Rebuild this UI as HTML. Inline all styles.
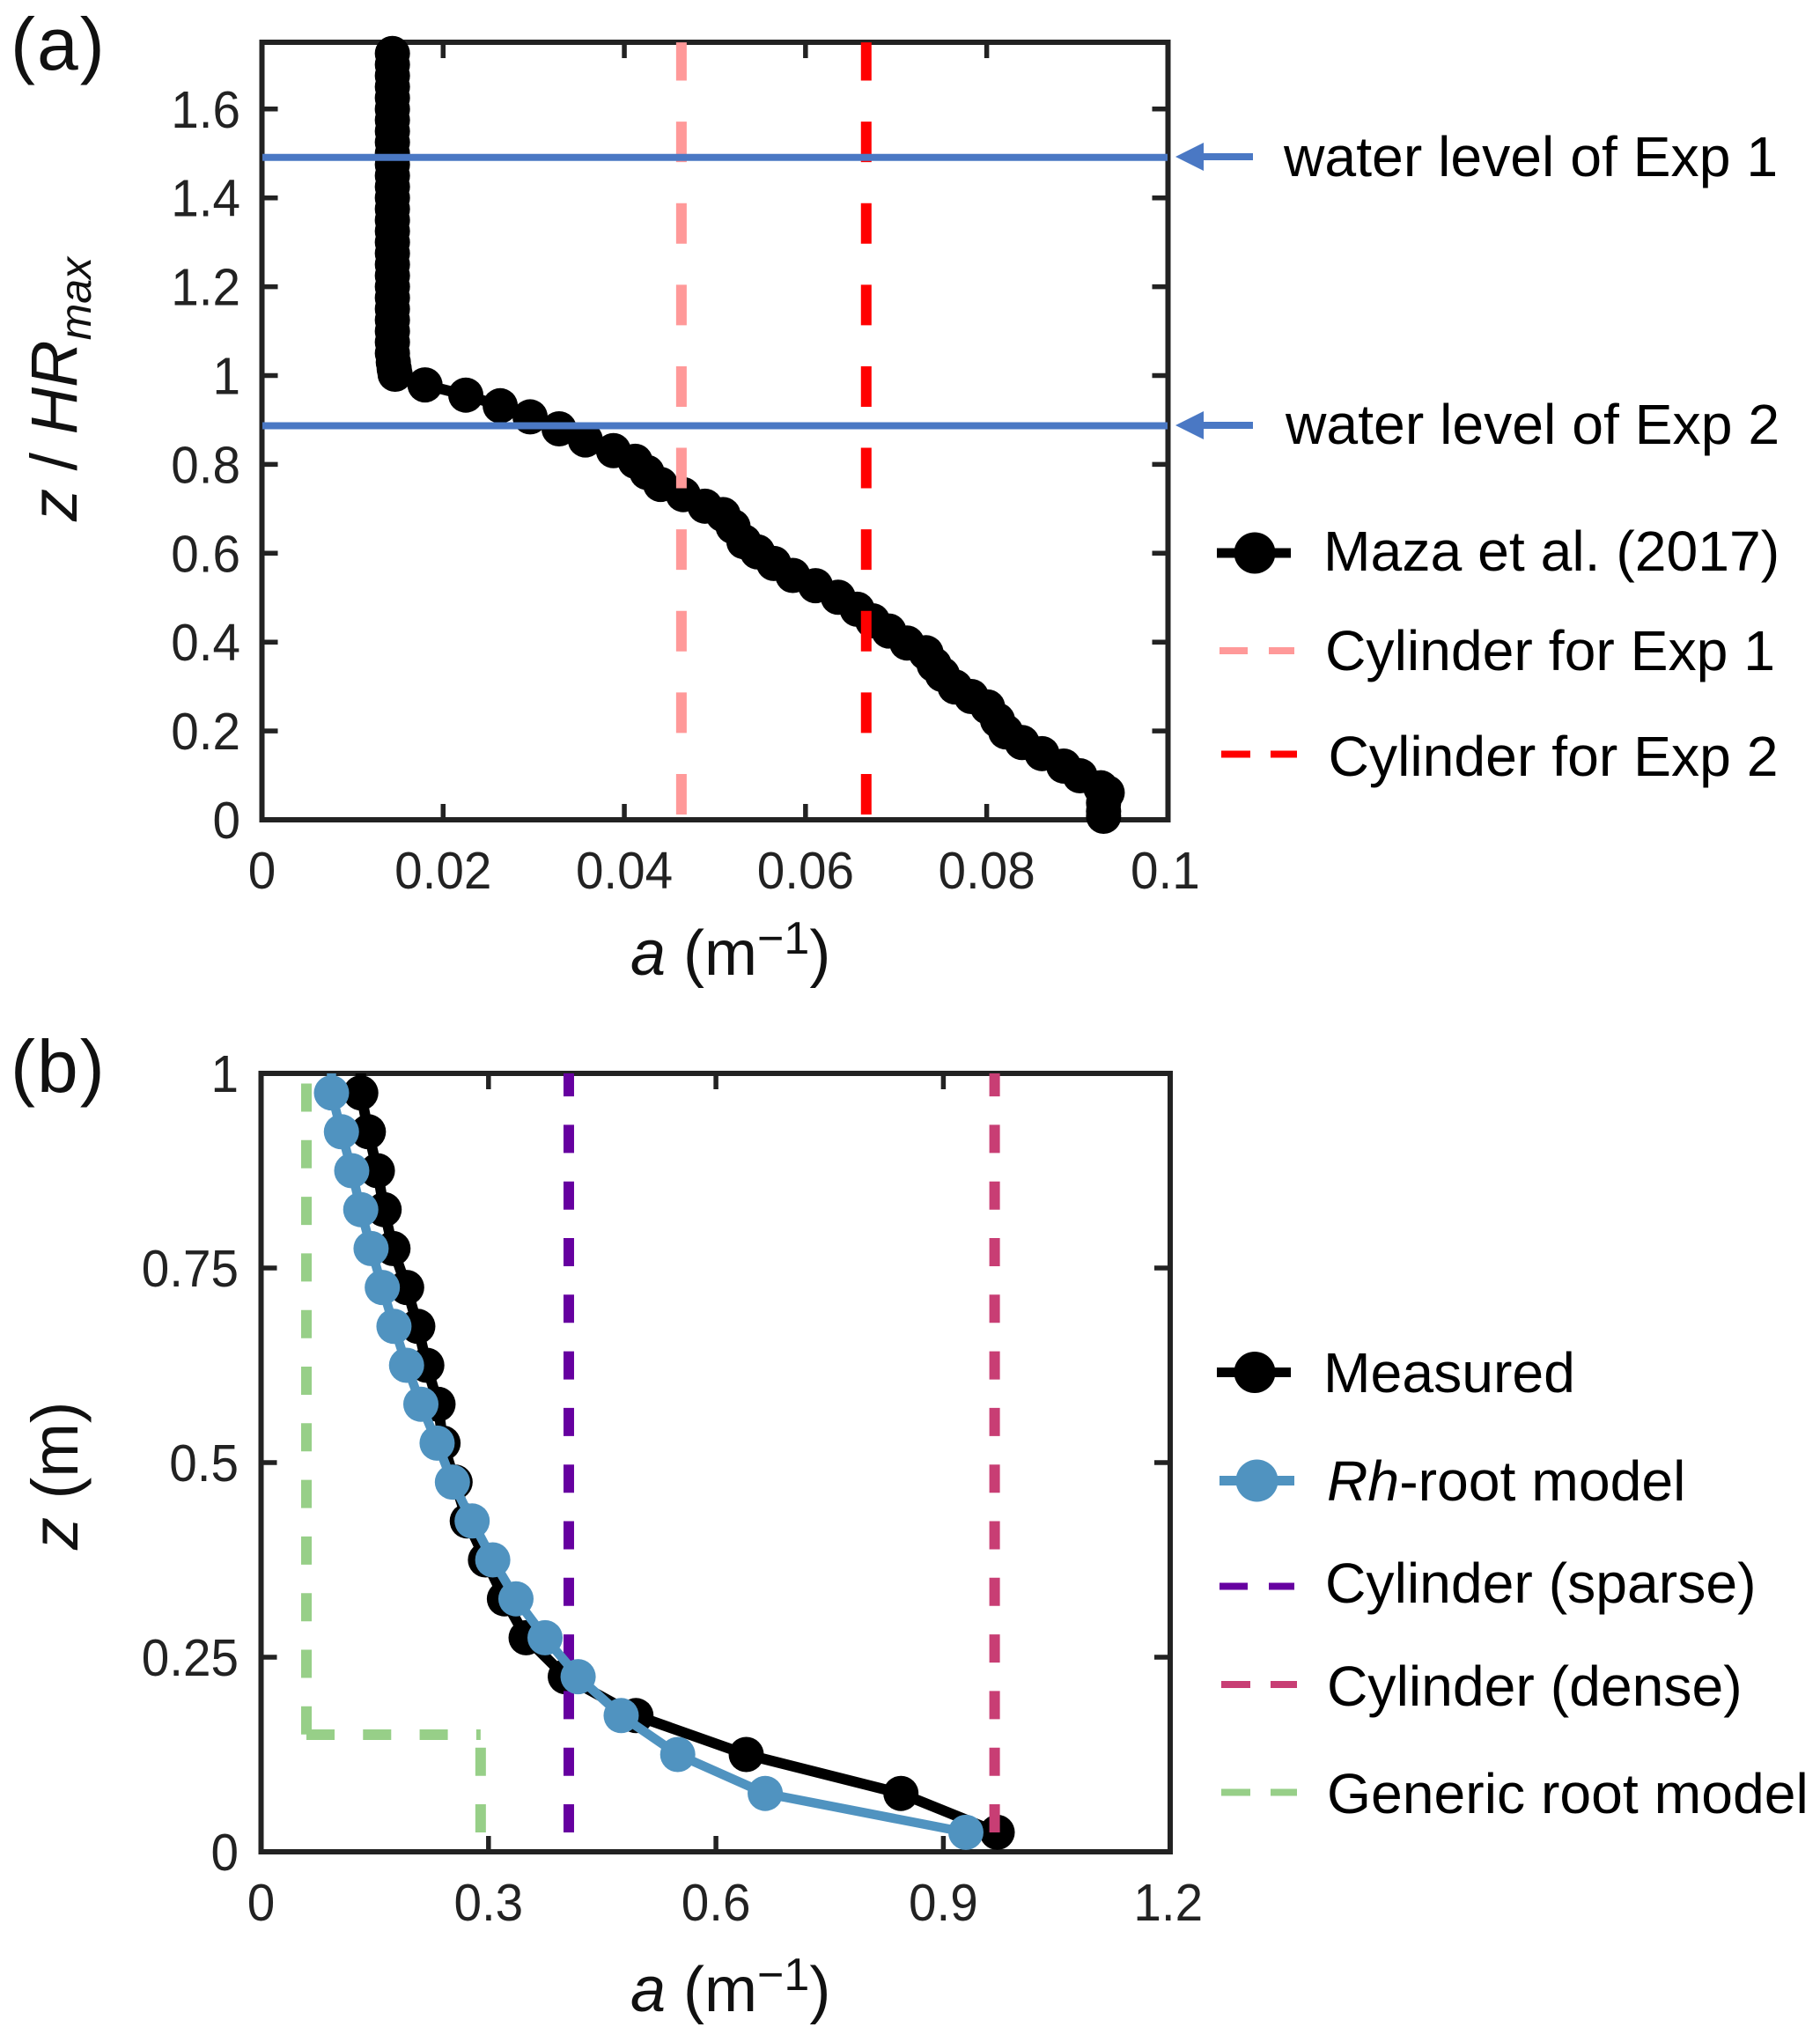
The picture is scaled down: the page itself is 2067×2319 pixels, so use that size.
<!DOCTYPE html>
<html lang="en">
<head>
<meta charset="utf-8">
<title>Frontal area profiles</title>
<style>
html,body{margin:0;padding:0;background:#fff;}
svg{display:block;font-family:"Liberation Sans",Arial,sans-serif;}
.leg{font-size:64.3px;fill:#000;}
.ttl{font-size:72px;fill:#111;}
.pl{font-size:84px;fill:#111;letter-spacing:2px;}
.tick-text{font-size:59px;fill:#222;}
</style>
</head>
<body>
<svg id="fig" xmlns="http://www.w3.org/2000/svg" width="2067" height="2319" viewBox="0 0 2067 2319">
  <rect x="0" y="0" width="2067" height="2319" fill="#fff"/>
  <g id="panelA"></g>
  <g id="panelB"></g>

  <text class="pl" x="12" y="79">(a)</text>
  <text class="pl" x="12" y="1240">(b)</text>

  <text class="ttl" font-size="74" style="font-size:74px" transform="translate(87,592) rotate(-90)"><tspan font-style="italic">z</tspan> / <tspan font-style="italic">HR</tspan><tspan font-style="italic" style="font-size:50px" dy="16">max</tspan></text>
  <text class="ttl" x="716" y="1107"><tspan font-style="italic">a</tspan> (m<tspan style="font-size:52px" dy="-24">−1</tspan><tspan dy="24">)</tspan></text>
  <text class="ttl" style="font-size:74px" transform="translate(88,1760) rotate(-90)"><tspan font-style="italic">z</tspan> (m)</text>
  <text class="ttl" x="716" y="2284"><tspan font-style="italic">a</tspan> (m<tspan style="font-size:52px" dy="-24">−1</tspan><tspan dy="24">)</tspan></text>

  <g>
    <rect x="1360" y="174" width="63" height="8" fill="#4a78c4"/>
    <polygon points="1335,178 1367,162 1367,194" fill="#4a78c4"/>
    <text class="leg" x="1458" y="200">water level of Exp 1</text>
  </g>
  <g>
    <rect x="1360" y="479" width="63" height="8" fill="#4a78c4"/>
    <polygon points="1335,483 1367,467 1367,499" fill="#4a78c4"/>
    <text class="leg" x="1460" y="504">water level of Exp 2</text>
  </g>

  <g>
    <g>
      <rect x="1382" y="622.5" width="84" height="11" fill="#000"/>
      <circle cx="1425" cy="628" r="23.5" fill="#000"/>
      <text class="leg" x="1503" y="648">Maza et al. (2017)</text>
    </g>
    <g>
      <rect x="1385" y="735" width="32" height="8" fill="#ff9999"/>
      <rect x="1441" y="735" width="29" height="8" fill="#ff9999"/>
      <text class="leg" x="1505" y="761">Cylinder for Exp 1</text>
    </g>
    <g>
      <rect x="1387" y="852.5" width="33" height="8" fill="#ff0000"/>
      <rect x="1443" y="852.5" width="30" height="8" fill="#ff0000"/>
      <text class="leg" x="1508.5" y="881">Cylinder for Exp 2</text>
    </g>
  </g>

  <g>
    <g>
      <rect x="1382" y="1553" width="84" height="11" fill="#000"/>
      <circle cx="1425" cy="1558.5" r="23.5" fill="#000"/>
      <text class="leg" x="1503" y="1581">Measured</text>
    </g>
    <g>
      <rect x="1385" y="1676" width="85" height="11" fill="#5093c0"/>
      <circle cx="1427.5" cy="1681.5" r="24" fill="#5093c0"/>
      <text class="leg" x="1507" y="1704"><tspan font-style="italic">Rh</tspan>-root model</text>
    </g>
    <g>
      <rect x="1385" y="1797.5" width="32" height="8" fill="#6600a0"/>
      <rect x="1441" y="1797.5" width="29" height="8" fill="#6600a0"/>
      <text class="leg" x="1505" y="1820">Cylinder (sparse)</text>
    </g>
    <g>
      <rect x="1387" y="1909" width="33" height="8" fill="#c83e74"/>
      <rect x="1443" y="1909" width="30" height="8" fill="#c83e74"/>
      <text class="leg" x="1507" y="1937">Cylinder (dense)</text>
    </g>
    <g>
      <rect x="1387" y="2031.5" width="33" height="8" fill="#97cf88"/>
      <rect x="1443" y="2031.5" width="30" height="8" fill="#97cf88"/>
      <text class="leg" x="1507" y="2059">Generic root model</text>
    </g>
  </g>
</svg>

<script>
// ---- Panel (a) data ----
const mazaA = [0.0144,0.0144,0.0144,0.0144,0.0144,0.0144,0.0144,0.0144,0.0144,0.0144,0.0144,0.0144,0.0144,0.0144,0.0144,0.0144,0.0144,0.0144,0.0144,0.0144,0.0144,0.0144,0.0144,0.0144,0.0144,0.0144,0.0144,0.0144,0.0145,0.0146,0.0147,0.0180,0.0225,0.0263,0.0296,0.0328,0.0357,0.0388,0.0412,0.0425,0.0440,0.0465,0.0489,0.0509,0.0520,0.0532,0.0547,0.0565,0.0586,0.0611,0.0636,0.0657,0.0674,0.0692,0.0712,0.0733,0.0742,0.0751,0.0765,0.0783,0.0801,0.0812,0.0821,0.0839,0.0861,0.0885,0.0903,0.0926,0.0933,0.0929,0.0929,0.0929];
const mazaZ = [1.725,1.70,1.675,1.65,1.625,1.60,1.575,1.55,1.525,1.50,1.475,1.45,1.425,1.40,1.375,1.35,1.325,1.30,1.275,1.25,1.225,1.20,1.175,1.15,1.125,1.10,1.075,1.05,1.03,1.015,1.003,0.979,0.956,0.932,0.907,0.880,0.855,0.831,0.807,0.782,0.755,0.732,0.706,0.687,0.660,0.626,0.603,0.577,0.550,0.527,0.501,0.474,0.448,0.425,0.398,0.376,0.349,0.327,0.299,0.2775,0.254,0.224,0.198,0.174,0.149,0.121,0.099,0.072,0.061,0.038,0.019,0.008];
const cylinderExp1A = [0.0463];
const cylinderExp2A = [0.0667];
const waterLevels = [1.491, 0.887];
const xTicksA = [0,0.02,0.04,0.06,0.08,0.1];
const xTickLabelsA = ["0","0.02","0.04","0.06","0.08","0.1"];
const yTicksA = [0,0.2,0.4,0.6,0.8,1,1.2,1.4,1.6];
const yTickLabelsA = ["0","0.2","0.4","0.6","0.8","1","1.2","1.4","1.6"];

// ---- Panel (b) data ----
const profileZ = [0.975,0.925,0.875,0.825,0.775,0.725,0.675,0.625,0.575,0.525,0.475,0.425,0.375,0.325,0.275,0.225,0.175,0.125,0.075,0.025];
const measuredA = [0.1315,0.1415,0.1534,0.1623,0.174,0.192,0.2067,0.2186,0.2334,0.24,0.2559,0.272,0.296,0.321,0.3496,0.4013,0.4945,0.640,0.844,0.971];
const rhRootA = [0.0929,0.106,0.1196,0.1315,0.1451,0.1599,0.1753,0.1919,0.2108,0.2322,0.2524,0.2784,0.3056,0.3362,0.3746,0.4182,0.475,0.5496,0.665,0.9297];
const cylinderSparseA = [0.4059];
const cylinderDenseA = [0.9676];
const genericRootA = [0.0598,0.2896];
const genericRootZ = [0.987,0.1505,0.0249];
const xTicksB = [0,0.3,0.6,0.9,1.2];
const xTickLabelsB = ["0","0.3","0.6","0.9","1.2"];
const yTicksB = [0,0.25,0.5,0.75,1];
const yTickLabelsB = ["0","0.25","0.5","0.75","1"];

// ---- Axis functions ----
function xA(v){ return 297.5 + v*10289; }
function yA(v){ return 931 - v*504.5; }
function xB(v){ return 296.5 + v*861; }
function yB(v){ return 2103 - v*884; }

const SVGNS = "http://www.w3.org/2000/svg";
function mk(tag, parent){
  const el = document.createElementNS(SVGNS, tag);
  parent.appendChild(el);
  return el;
}
function vline(parent, x, y1, y2, color, w, dash){
  const l = mk('line', parent);
  l.setAttribute('x1', x); l.setAttribute('x2', x);
  l.setAttribute('y1', y1); l.setAttribute('y2', y2);
  l.setAttribute('stroke', color); l.setAttribute('stroke-width', w);
  if (dash) l.setAttribute('stroke-dasharray', dash);
  return l;
}
function hline(parent, x1, x2, y, color, w, dash){
  const l = mk('line', parent);
  l.setAttribute('x1', x1); l.setAttribute('x2', x2);
  l.setAttribute('y1', y); l.setAttribute('y2', y);
  l.setAttribute('stroke', color); l.setAttribute('stroke-width', w);
  if (dash) l.setAttribute('stroke-dasharray', dash);
  return l;
}
function drawAxes(parent, X, Y, xv, xl, yv, yl, left, right, top, bottom, labelRight){
  const frame = mk('rect', parent);
  
  
  frame.setAttribute('x', left); frame.setAttribute('y', top);
  frame.setAttribute('width', right-left); frame.setAttribute('height', bottom-top);
  frame.setAttribute('fill', 'none'); frame.setAttribute('stroke', '#222'); frame.setAttribute('stroke-width', 6);
  xv.forEach(function(v,i){
    const px = X(v);
    if (px > left+5 && px < right-5) {
      const t1 = vline(parent, px, bottom, bottom-18, '#222', 5.5);
      
      
      const t2 = vline(parent, px, top, top+18, '#222', 5.5);
      
      
    }
    const t = mk('text', parent);
    
    
    t.setAttribute('class', 'tick-text');
    t.setAttribute('text-anchor', 'middle');
    const lx = (i === xv.length-1) ? px-3 : px;
    t.setAttribute('transform', 'translate(' + lx + ',' + (bottom+78) + ') scale(0.96,1)');
    t.textContent = xl[i];
  });
  yv.forEach(function(v,i){
    const py = Y(v);
    if (py > top+5 && py < bottom-5) {
      const t1 = hline(parent, left, left+18, py, '#222', 5.5);
      
      
      const t2 = hline(parent, right, right-18, py, '#222', 5.5);
      
      
    }
    const t = mk('text', parent);
    
    
    t.setAttribute('class', 'tick-text');
    t.setAttribute('text-anchor', 'end');
    t.setAttribute('transform', 'translate(' + labelRight + ',' + (py+21) + ') scale(0.96,1)');
    t.textContent = yl[i];
  });
}
function series(parent, xs, zs, X, Y, color, lw, r, topZ){
  const line = mk('polyline', parent);
  
  
  let pts = xs.map(function(v,i){ return X(v)+','+Y(zs[i]); });
  if (topZ !== null) pts.unshift(X(xs[0])+','+Y(topZ));
  line.setAttribute('points', pts.join(' '));
  line.setAttribute('fill', 'none');
  line.setAttribute('stroke', color);
  line.setAttribute('stroke-width', lw);
  line.setAttribute('stroke-linejoin', 'round');
  xs.forEach(function(v,i){
    const c = mk('circle', parent);
    
    
    c.setAttribute('cx', X(v));
    c.setAttribute('cy', Y(zs[i]));
    c.setAttribute('r', r);
    c.setAttribute('fill', color);
  });
}

// ---- Panel (a) ----
const pA = document.getElementById('panelA');
drawAxes(pA, xA, yA, xTicksA, xTickLabelsA, yTicksA, yTickLabelsA, 297.5, 1326.5, 48, 931, 273);
series(pA, mazaA, mazaZ, xA, yA, '#000', 12, 20, null);
cylinderExp1A.forEach(function(v){
  const d = vline(pA, xA(v), yA(0.012), yA(1.75), '#ff9999', 12, '46 46.6');
  
  
});
cylinderExp2A.forEach(function(v){
  const d = vline(pA, xA(v), yA(0.012), yA(1.75), '#ff0000', 12, '46 46.6');
  
  
});
waterLevels.forEach(function(v){
  const w = hline(pA, 298, 1326, yA(v), '#4a78c4', 8);
  
  
});

// ---- Panel (b) ----
const pB = document.getElementById('panelB');
drawAxes(pB, xB, yB, xTicksB, xTickLabelsB, yTicksB, yTickLabelsB, 296.5, 1329, 1219, 2103, 271);
series(pB, measuredA, profileZ, xB, yB, '#000', 12, 20, 1);
cylinderDenseA.forEach(function(v){
  const d = vline(pB, xB(v), yB(0.0249), yB(1), '#c83e74', 12, '32 32.3');
  
  
});
cylinderSparseA.forEach(function(v){
  const d = vline(pB, xB(v), yB(0.0249), yB(1), '#6600a0', 12, '32 32.3');
  
  
});
const g1 = vline(pB, xB(genericRootA[0]), yB(genericRootZ[0]), yB(genericRootZ[1]), '#97cf88', 12, '32 32.3');


const g2 = hline(pB, xB(genericRootA[0]), xB(genericRootA[1]), yB(genericRootZ[1]), '#97cf88', 12, '32 32.3');


const g3 = vline(pB, xB(genericRootA[1]), yB(genericRootZ[2]), yB(genericRootZ[1]), '#97cf88', 12, '32 32.3');


series(pB, rhRootA, profileZ, xB, yB, '#5093c0', 10.5, 20, 1);
</script>
</body>
</html>
